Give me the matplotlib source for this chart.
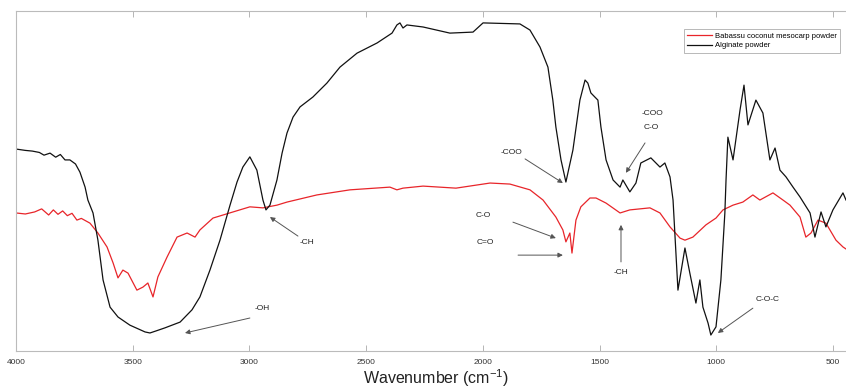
#!/usr/bin/env python3
import matplotlib
matplotlib.use("Agg")
import matplotlib.pyplot as plt
import numpy as np

plt.rcParams['font.family'] = ['Liberation Sans', 'DejaVu Sans']
plt.rcParams['mathtext.default'] = 'regular'

# Alginate powder (black) - wavenumber / transmittance (a.u.)
alg_wn = [4000, 3960, 3930, 3900, 3880, 3854, 3830, 3810, 3790, 3769, 3745, 3726,
          3704, 3692, 3670, 3649, 3627, 3597, 3563, 3512, 3447, 3426, 3400, 3362,
          3297, 3246, 3212, 3169, 3126, 3083, 3053, 3028, 2998, 2968, 2942, 2929,
          2912, 2882, 2860, 2839, 2813, 2783, 2728, 2668, 2612, 2539, 2453, 2389,
          2368, 2355, 2342, 2325, 2256, 2141, 2042, 1999, 1841, 1798, 1755, 1721,
          1700, 1687, 1665, 1644, 1614, 1584, 1562, 1550, 1537, 1520, 1507, 1494,
          1472, 1442, 1412, 1400, 1370, 1344, 1323, 1280, 1241, 1220, 1198, 1185,
          1164, 1134, 1113, 1087, 1070, 1057, 1035, 1023, 1001, 980, 963, 958,
          950, 928, 898, 881, 864, 830, 800, 770, 748, 727, 701, 671, 641, 598,
          577, 551, 530, 500, 457, 444]
alg_t = [59.4, 59.0, 58.8, 58.4, 57.6, 58.2, 57.0, 57.8, 56.2, 56.2, 55.0, 52.6,
         48.2, 44.4, 40.6, 32.6, 20.9, 12.9, 10.0, 7.6, 5.6, 5.3, 5.9, 6.8,
         8.5, 12.1, 15.9, 23.8, 32.6, 42.9, 49.7, 54.1, 57.1, 53.2, 44.4, 41.5,
         42.9, 50.3, 58.2, 64.1, 68.8, 71.8, 74.7, 78.8, 83.5, 87.6, 90.6, 93.5,
         95.9, 96.5, 95.0, 95.9, 95.3, 93.5, 93.8, 96.5, 96.2, 94.4, 89.4, 83.5,
         73.8, 65.9, 56.2, 49.7, 59.1, 73.8, 79.7, 78.8, 75.9, 74.7, 73.8, 65.9,
         56.2, 50.3, 48.2, 50.3, 46.8, 49.4, 55.3, 56.8, 54.1, 55.3, 51.2, 44.4,
         17.9, 30.3, 22.9, 14.1, 20.9, 12.9, 8.2, 4.7, 7.1, 20.9, 40.6, 50.3,
         62.9, 56.2, 70.9, 78.2, 66.5, 73.8, 70.0, 56.2, 59.7, 53.2, 51.2, 48.2, 45.3, 40.6,
         33.5, 40.9, 36.5, 41.5, 46.5, 44.4]

# Babassu coconut mesocarp powder (red)
bab_wn = [4000, 3960, 3920, 3890, 3860, 3840, 3820, 3800, 3780, 3760, 3739, 3720,
          3683, 3649, 3610, 3584, 3563, 3542, 3520, 3482, 3456, 3435, 3413, 3392,
          3353, 3310, 3267, 3233, 3212, 3156, 3070, 2998, 2942, 2882, 2839, 2711,
          2569, 2398, 2368, 2342, 2256, 2115, 1969, 1884, 1798, 1742, 1687, 1657,
          1644, 1627, 1618, 1601, 1580, 1541, 1515, 1472, 1412, 1370, 1284, 1241,
          1198, 1155, 1134, 1100, 1044, 1001, 971, 928, 886, 843, 813, 757,
          714, 684, 641, 616, 594, 564, 530, 487, 457, 444]
bab_t = [40.6, 40.3, 40.9, 41.8, 40.0, 41.5, 40.2, 41.2, 39.8, 40.5, 38.5, 39.0,
         37.6, 34.7, 30.6, 25.9, 21.5, 23.8, 22.9, 17.9, 18.8, 20.0, 15.9, 21.8,
         27.6, 33.5, 34.7, 33.5, 35.6, 39.1, 40.9, 42.4, 42.1, 42.9, 43.8, 45.9,
         47.4, 48.2, 47.4, 47.9, 48.5, 47.9, 49.4, 49.1, 47.4, 44.4, 39.4, 35.6,
         32.1, 34.7, 28.8, 38.5, 42.4, 45.0, 45.0, 43.5, 40.6, 41.5, 42.1, 40.6,
         36.5, 33.2, 32.6, 33.5, 37.1, 39.1, 41.5, 42.9, 43.8, 45.9, 44.4, 46.5,
         44.4, 42.9, 39.4, 33.5, 34.7, 38.5, 37.6, 32.6, 30.6, 30.0]

# label, text position, arrow tail, arrow head (wavenumber, transmittance)
NOTES = [
    ("-OH", (2946, 12.6), (2998, 9.7), (3276, 5.3)),
    ("-CH", (2753, 31.8), (2792, 33.8), (2912, 39.4)),
    ("-COO", (1875, 58.5), (1819, 56.5), (1657, 49.4)),
    ("-COO", (1271, 70.0), (1305, 61.2), (1387, 52.4)),
    ("C-O", (1280, 65.6), None, None),
    ("C-O", (1999, 40.0), (1871, 37.9), (1687, 33.2)),
    ("C=O", (1991, 31.8), (1849, 28.2), (1657, 28.2)),
    ("-CH", (1408, 23.2), (1408, 26.2), (1408, 37.1)),
    ("C-O-C", (778, 15.0), (843, 12.6), (993, 5.3)),
]

fig = plt.figure(figsize=(8.46, 3.89), dpi=100)
ax = fig.add_axes([0.0189, 0.0977, 0.9811, 0.874])

ax.plot(bab_wn, bab_t, color='#e8252a', lw=0.9, label='Babassu coconut mesocarp powder')
ax.plot(alg_wn, alg_t, color='#111111', lw=0.9, label='Alginate powder')

for label, txy, tail, head in NOTES:
    if tail is not None:
        ax.annotate('', xy=head, xytext=tail,
                    arrowprops=dict(arrowstyle='-|>', color='#555555', lw=0.7,
                                    mutation_scale=7, shrinkA=0, shrinkB=0))
    ax.text(txy[0], txy[1], label, fontsize=6, ha='center', va='center',
            color='#222222')

ax.set_xlim(4000, 444)
ax.set_ylim(0, 100)
ax.set_xticks([4000, 3500, 3000, 2500, 2000, 1500, 1000, 500])
ax.set_yticks([])
ax.tick_params(axis='x', direction='in', top=True, length=4, width=0.6,
               color='#aaaaaa', labelsize=6, labelcolor='#333333', pad=6)
for side in ['left', 'top', 'bottom']:
    ax.spines[side].set_color('#bbbbbb')
    ax.spines[side].set_linewidth(0.8)
ax.spines['right'].set_visible(False)

fig.text(0.515, 0.014, 'Wavenumber (cm$^{-1}$)', fontsize=11.5, color='#222222',
         ha='center', va='baseline')

leg = ax.legend(loc='upper right', bbox_to_anchor=(0.9928, 0.947), fontsize=5.5,
                frameon=True, fancybox=False, handlelength=3.2, borderpad=0.45,
                labelspacing=0.3, handletextpad=0.4, borderaxespad=0)
leg.get_frame().set_edgecolor('#999999')
leg.get_frame().set_linewidth(0.6)

plt.savefig('out.png', dpi=100)
